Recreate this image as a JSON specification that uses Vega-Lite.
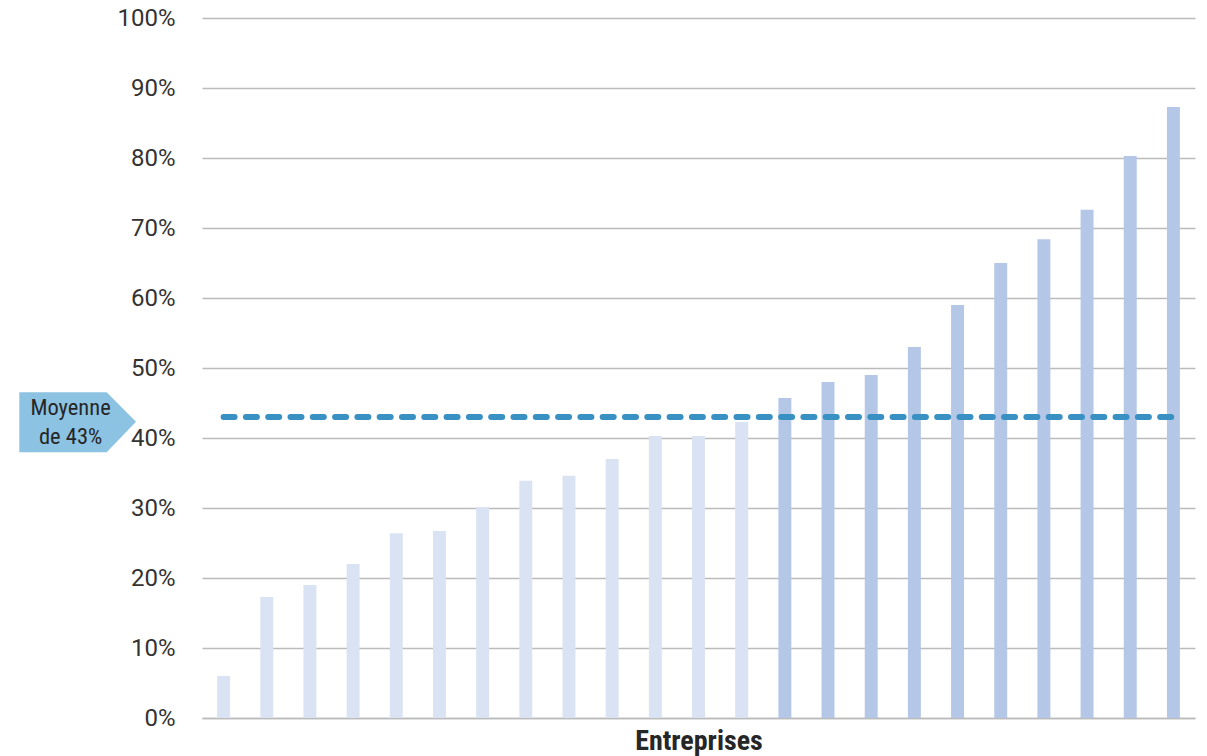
{
  "$schema": "https://vega.github.io/schema/vega-lite/v6.json",
  "width": 993,
  "height": 700,
  "autosize": "none",
  "padding": {"left": 202, "top": 18, "right": 12, "bottom": 38},
  "background": "white",
  "config": {
    "view": {"stroke": null},
    "font": "Roboto"
  },
  "datasets": {
    "barres": [
      {"entreprise": "E01", "part": 6.0, "groupe": "sous"},
      {"entreprise": "E02", "part": 17.3, "groupe": "sous"},
      {"entreprise": "E03", "part": 19.0, "groupe": "sous"},
      {"entreprise": "E04", "part": 22.0, "groupe": "sous"},
      {"entreprise": "E05", "part": 26.4, "groupe": "sous"},
      {"entreprise": "E06", "part": 26.7, "groupe": "sous"},
      {"entreprise": "E07", "part": 30.1, "groupe": "sous"},
      {"entreprise": "E08", "part": 33.9, "groupe": "sous"},
      {"entreprise": "E09", "part": 34.6, "groupe": "sous"},
      {"entreprise": "E10", "part": 37.0, "groupe": "sous"},
      {"entreprise": "E11", "part": 40.3, "groupe": "sous"},
      {"entreprise": "E12", "part": 40.3, "groupe": "sous"},
      {"entreprise": "E13", "part": 42.3, "groupe": "sous"},
      {"entreprise": "E14", "part": 45.7, "groupe": "dessus"},
      {"entreprise": "E15", "part": 48.0, "groupe": "dessus"},
      {"entreprise": "E16", "part": 49.0, "groupe": "dessus"},
      {"entreprise": "E17", "part": 53.0, "groupe": "dessus"},
      {"entreprise": "E18", "part": 59.0, "groupe": "dessus"},
      {"entreprise": "E19", "part": 65.0, "groupe": "dessus"},
      {"entreprise": "E20", "part": 68.4, "groupe": "dessus"},
      {"entreprise": "E21", "part": 72.6, "groupe": "dessus"},
      {"entreprise": "E22", "part": 80.3, "groupe": "dessus"},
      {"entreprise": "E23", "part": 87.3, "groupe": "dessus"}
    ],
    "moyenne": [
      {"entreprise": "E01", "moyenne": 43},
      {"entreprise": "E23", "moyenne": 43}
    ],
    "etiquette": [
      {"entreprise": "E01", "moyenne": 43, "texte": ["Moyenne", "de 43%"]}
    ]
  },
  "encoding": {
    "x": {
      "field": "entreprise",
      "type": "nominal",
      "sort": null,
      "scale": {"paddingInner": 0.7, "paddingOuter": 0.35},
      "axis": {
        "labels": false,
        "ticks": false,
        "domain": true,
        "domainColor": "#bbbbbb",
        "domainWidth": 1.5,
        "title": "Entreprises",
        "titleFont": "Roboto Condensed, DejaVu Sans Condensed, Roboto",
        "titleFontWeight": "bold",
        "titleFontSize": 28,
        "titleColor": "#262626",
        "titleBaseline": "alphabetic",
        "titlePadding": 31
      }
    }
  },
  "layer": [
    {
      "data": {"name": "barres"},
      "mark": {"type": "bar"},
      "encoding": {
        "y": {
          "field": "part",
          "type": "quantitative",
          "scale": {"domain": [0, 100], "nice": false},
          "axis": {
            "values": [0, 10, 20, 30, 40, 50, 60, 70, 80, 90, 100],
            "labelExpr": "datum.value + '%'",
            "title": null,
            "domain": false,
            "ticks": false,
            "labelPadding": 27,
            "labelFontSize": 24,
            "labelFont": "Roboto",
            "labelColor": "#333333",
            "grid": true,
            "gridColor": "#bbbbbb",
            "gridWidth": 1.5
          }
        },
        "color": {
          "field": "groupe",
          "type": "nominal",
          "scale": {"domain": ["sous", "dessus"], "range": ["#dae3f3", "#b4c7e7"]},
          "legend": null
        }
      }
    },
    {
      "data": {"name": "moyenne"},
      "mark": {"type": "line", "color": "#3990c2", "strokeWidth": 6, "strokeDash": [11, 11.3], "strokeCap": "round"},
      "encoding": {
        "y": {"field": "moyenne", "type": "quantitative"}
      }
    },
    {
      "data": {"name": "etiquette"},
      "mark": {
        "type": "point",
        "shape": "M-2.043,-0.247L-1.169,-0.247L-0.876,0.047L-1.169,0.353L-2.043,0.353Z",
        "size": 40000,
        "filled": true,
        "opacity": 1,
        "color": "#8cc3e2",
        "strokeWidth": 0
      },
      "encoding": {
        "y": {"field": "moyenne", "type": "quantitative"}
      }
    },
    {
      "data": {"name": "etiquette"},
      "mark": {
        "type": "text",
        "font": "Roboto Condensed, DejaVu Sans Condensed, Roboto",
        "fontSize": 22.5,
        "color": "#262626",
        "align": "center",
        "baseline": "alphabetic",
        "lineHeight": 29,
        "dx": -153,
        "dy": -2
      },
      "encoding": {
        "y": {"field": "moyenne", "type": "quantitative"},
        "text": {"field": "texte"}
      }
    }
  ]
}
